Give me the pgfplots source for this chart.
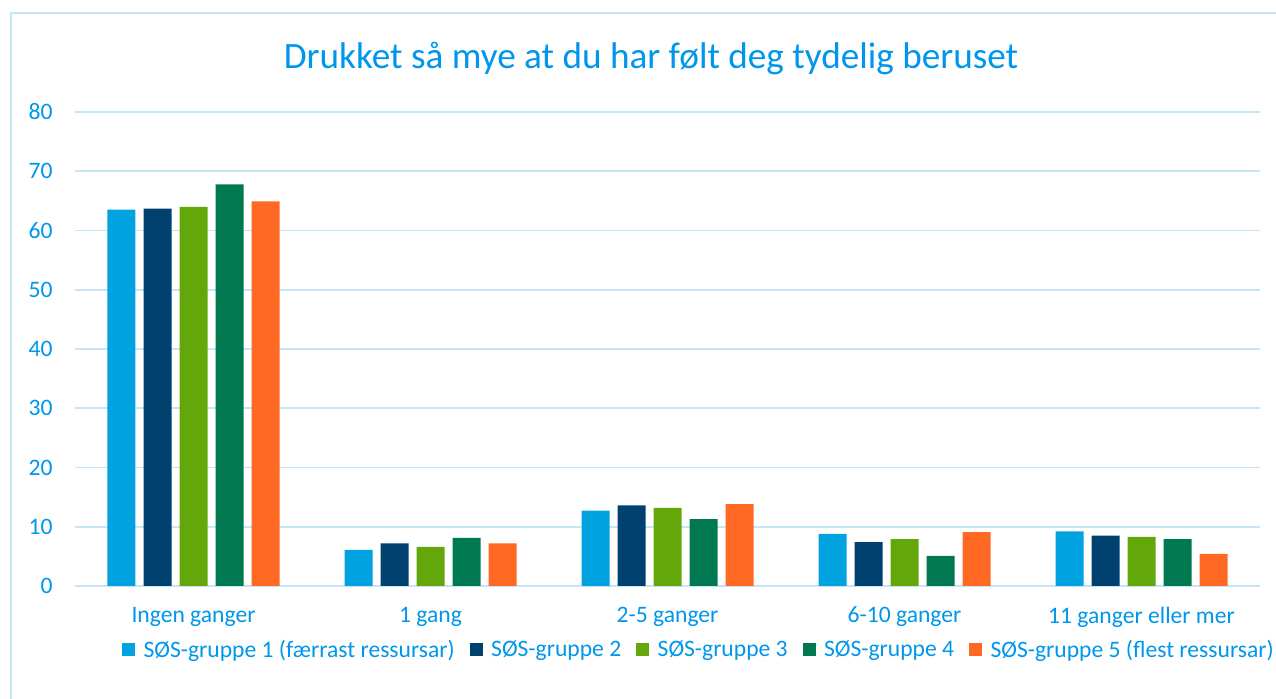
\documentclass[border=0pt]{standalone}
\usepackage{pgfplots}
\pgfplotsset{compat=1.18}
\usepackage{fontspec}
\setmainfont{Carlito}
\definecolor{txt}{RGB}{0,150,235}
\definecolor{gridc}{RGB}{197,229,248}
\definecolor{c1}{RGB}{0,163,224}
\definecolor{c2}{RGB}{0,65,112}
\definecolor{c3}{RGB}{100,167,11}
\definecolor{c4}{RGB}{0,120,80}
\definecolor{c5}{RGB}{255,105,35}
\begin{document}
\begin{tikzpicture}
\path[use as bounding box] (0,0) rectangle (638pt,349.5pt);
\draw[gridc, line width=0.8pt] (5.5pt,0) -- (5.5pt,343pt) -- (638pt,343pt);
\node[txt, font=\fontsize{18.6pt}{21pt}\selectfont] at (325.5pt,320pt) {Drukket så mye at du har følt deg tydelig beruset};
\begin{axis}[
  at={(37.5pt,56.5pt)}, anchor=south west,
  scale only axis, width=592.5pt, height=237pt,
  ybar=4pt, bar width=14pt,
  xmin=-0.5, xmax=4.5, ymin=0, ymax=80,
  ytick={0,10,...,80},
  xtick={0,1,2,3,4},
  xticklabels={Ingen ganger,1 gang,2-5 ganger,6-10 ganger,11 ganger eller mer},
  axis line style={draw=none},
  major tick length=0pt,
  ymajorgrids, grid style={gridc, line width=0.8pt},
  /pgf/number format/assume math mode=true,
  tick label style={txt, font=\fontsize{11.8pt}{13pt}\selectfont},
  yticklabel style={anchor=east, inner sep=0pt, xshift=-11pt},
  xticklabel style={anchor=center, inner sep=0pt, yshift=-15.5pt},
  legend columns=5,
  legend style={at={(0.527,-0.135)}, anchor=center, draw=none, fill=none,
    font=\fontsize{11.8pt}{13pt}\selectfont, text=txt,
    /tikz/every even column/.append style={column sep=6pt},
    inner sep=0pt, nodes={inner sep=1.5pt},
    /tikz/every odd column/.append style={column sep=2.7pt}},
  legend image code/.code={\fill[#1] (0pt,-3.25pt) rectangle (6.5pt,3.25pt);},
]
\addplot[fill=c1, draw=none] coordinates {(0,63.5) (1,6.1) (2,12.7) (3,8.8) (4,9.2)};
\addplot[fill=c2, draw=none] coordinates {(0,63.7) (1,7.2) (2,13.6) (3,7.4) (4,8.5)};
\addplot[fill=c3, draw=none] coordinates {(0,64.0) (1,6.6) (2,13.2) (3,7.9) (4,8.3)};
\addplot[fill=c4, draw=none] coordinates {(0,67.8) (1,8.1) (2,11.3) (3,5.1) (4,7.9)};
\addplot[fill=c5, draw=none] coordinates {(0,64.9) (1,7.2) (2,13.8) (3,9.1) (4,5.4)};
\legend{SØS-gruppe 1 (færrast ressursar),SØS-gruppe 2,SØS-gruppe 3,SØS-gruppe 4,SØS-gruppe 5 (flest ressursar)}
\end{axis}
\end{tikzpicture}
\end{document}
